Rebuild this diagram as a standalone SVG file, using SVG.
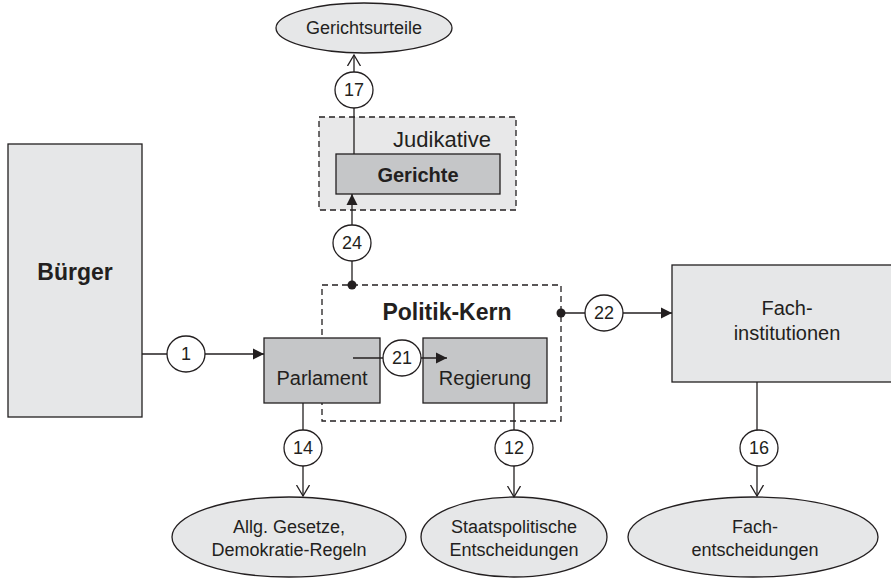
<svg xmlns="http://www.w3.org/2000/svg" width="891" height="581" viewBox="0 0 891 581">
<style>
text{font-family:"Liberation Sans",Arial,sans-serif;fill:#231f20;text-anchor:middle}
.box{fill:#e6e7e8;stroke:#231f20;stroke-width:1.3}
.dark{fill:#c5c6c8;stroke:#231f20;stroke-width:1.3}
.grp{stroke:#231f20;stroke-width:1.3;stroke-dasharray:6 4}
.ell{fill:#e6e7e8;stroke:#231f20;stroke-width:1.3}
.ln{fill:none;stroke:#231f20;stroke-width:1.3}
.num{fill:#fff;stroke:#231f20;stroke-width:1.3}
.t20{font-size:20px}
.t18{font-size:18px}
.b{font-weight:bold}
</style>
<defs>
<marker id="fa" markerUnits="userSpaceOnUse" markerWidth="12" markerHeight="12" refX="11" refY="6" orient="auto">
<path d="M0,0.5 L11,6 L0,11.5 z" fill="#231f20"/>
</marker>
<marker id="oa" markerUnits="userSpaceOnUse" markerWidth="14" markerHeight="16" refX="11" refY="7" orient="auto">
<path d="M0,0.5 L11,7 L0,13.5" fill="none" stroke="#231f20" stroke-width="1.3"/>
</marker>
</defs>

<g id="judikative">
<rect x="319" y="117" width="197" height="93" fill="#e8e8e9" class="grp"/>
<text x="442" y="147" font-size="22">Judikative</text>
</g>
<g id="politik-kern">
<rect x="322" y="285" width="239" height="136" fill="#fff" class="grp"/>
<text x="447" y="320" font-size="23" class="b">Politik-Kern</text>
</g>

<g id="buerger">
<rect class="box" x="8" y="144" width="134" height="273"/>
<text x="75" y="280" font-size="23" class="b">Bürger</text>
</g>
<g id="parlament">
<rect class="dark" x="264" y="338" width="116" height="65"/>
<text class="t20" x="322" y="385">Parlament</text>
</g>
<g id="regierung">
<rect class="dark" x="423" y="338" width="124" height="65"/>
<text class="t20" x="485" y="385">Regierung</text>
</g>
<g id="gerichte">
<rect class="dark" x="336" y="154" width="164" height="40"/>
<text class="t20 b" x="418" y="182">Gerichte</text>
</g>
<g id="fachinstitutionen">
<rect class="box" x="672" y="265" width="240" height="117"/>
<text class="t20" x="787" y="315">Fach-</text>
<text class="t20" x="787" y="340">institutionen</text>
</g>
<g id="gerichtsurteile">
<ellipse class="ell" cx="364" cy="28" rx="88" ry="25"/>
<text class="t18" x="364" y="34">Gerichtsurteile</text>
</g>
<g id="gesetze">
<ellipse class="ell" cx="289" cy="537" rx="117" ry="40"/>
<text class="t18" x="289" y="533">Allg. Gesetze,</text>
<text class="t18" x="289" y="556">Demokratie-Regeln</text>
</g>
<g id="staatspolitische">
<ellipse class="ell" cx="514" cy="537" rx="93" ry="40"/>
<text class="t18" x="514" y="533">Staatspolitische</text>
<text class="t18" x="514" y="556">Entscheidungen</text>
</g>
<g id="fachentscheidungen">
<ellipse class="ell" cx="753" cy="537" rx="125" ry="40"/>
<text class="t18" x="755" y="533">Fach-</text>
<text class="t18" x="755" y="556">entscheidungen</text>
</g>

<g id="connectors">
<line class="ln" x1="142" y1="354" x2="264" y2="354" marker-end="url(#fa)"/>
<line class="ln" x1="353" y1="358" x2="447" y2="358" marker-end="url(#fa)"/>
<line class="ln" x1="352" y1="285" x2="352" y2="194" marker-end="url(#fa)"/>
<circle cx="352" cy="285" r="4.5" fill="#231f20"/>
<line class="ln" x1="561" y1="313" x2="672" y2="313" marker-end="url(#fa)"/>
<circle cx="561" cy="313" r="4.5" fill="#231f20"/>
<line class="ln" x1="354" y1="154" x2="354" y2="55" marker-end="url(#oa)"/>
<line class="ln" x1="303" y1="403" x2="303" y2="496" marker-end="url(#oa)"/>
<line class="ln" x1="514" y1="403" x2="514" y2="497" marker-end="url(#oa)"/>
<line class="ln" x1="757" y1="382" x2="757" y2="496" marker-end="url(#oa)"/>
<g id="n1"><ellipse class="num" cx="186" cy="354" rx="19" ry="18"/><text class="t18" x="186" y="360">1</text></g>
<g id="n21"><ellipse class="num" cx="402" cy="358" rx="19" ry="18"/><text class="t18" x="402" y="364">21</text></g>
<g id="n24"><ellipse class="num" cx="352" cy="243" rx="19" ry="18"/><text class="t18" x="352" y="249">24</text></g>
<g id="n22"><ellipse class="num" cx="604" cy="313" rx="19" ry="18"/><text class="t18" x="604" y="319">22</text></g>
<g id="n17"><ellipse class="num" cx="354" cy="90" rx="19" ry="18"/><text class="t18" x="354" y="96">17</text></g>
<g id="n14"><ellipse class="num" cx="303" cy="448" rx="19" ry="18"/><text class="t18" x="303" y="454">14</text></g>
<g id="n12"><ellipse class="num" cx="514" cy="448" rx="19" ry="18"/><text class="t18" x="514" y="454">12</text></g>
<g id="n16"><ellipse class="num" cx="759" cy="448" rx="19" ry="18"/><text class="t18" x="759" y="454">16</text></g>
</g>
</svg>
